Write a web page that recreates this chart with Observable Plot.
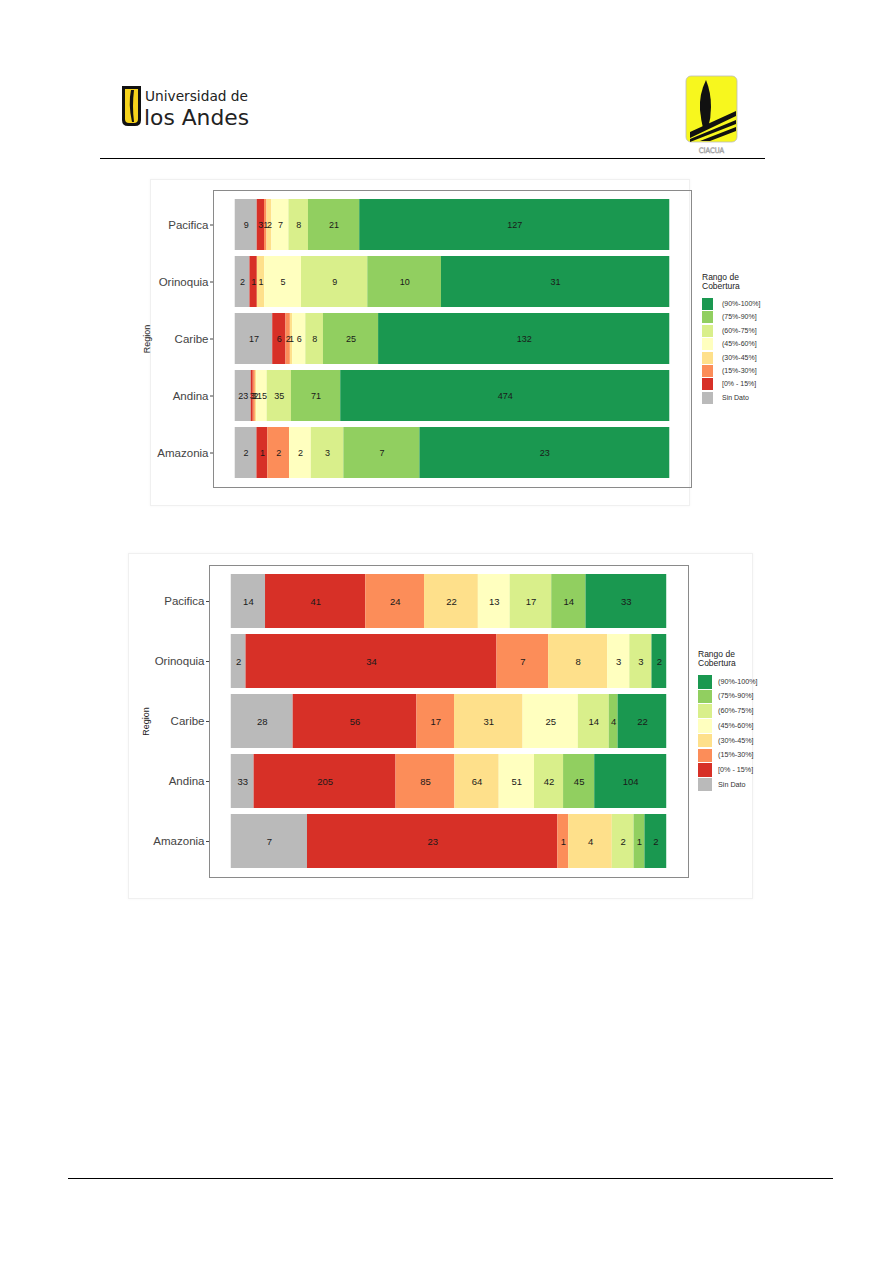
<!DOCTYPE html>
<html><head><meta charset="utf-8">
<script src="https://cdn.jsdelivr.net/npm/d3@7"></script>
<script src="https://cdn.jsdelivr.net/npm/@observablehq/plot@0.6"></script>
<style>
body{margin:0;width:893px;height:1263px;position:relative;background:#fff;font-family:"Liberation Sans",Arial,sans-serif;overflow:hidden}
.abs{position:absolute}
.frame{position:absolute;border:1px solid #f0f0f0;box-shadow:0 0 3px rgba(0,0,0,0.04)}
.legend{position:absolute;color:#333}
.legend .title{font-size:8.5px;line-height:9px;color:#222}
.legend .item{position:relative;font-size:7.2px;color:#333}
.legend .key{position:absolute;left:0}
.legend .lab{position:absolute;white-space:nowrap}
</style></head><body>

<!-- header -->
<svg class="abs" style="left:0;top:0" width="893" height="170">
  <path d="M122,86 h19 v34 q0,6 -6,6 h-7 q-6,0 -6,-6 z" fill="#111"/>
  <path d="M125,89 h13 v30 q0,4 -4,4 h-5 q-4,0 -4,-4 z" fill="#f6d31c"/>
  <path d="M131,90 q-3,14 1,32 l2,0 q-2,-16 0,-32 z" fill="#111"/>
  <text x="145" y="101" font-family="DejaVu Sans Condensed, DejaVu Sans" fill="#222" font-size="14" textLength="103" lengthAdjust="spacingAndGlyphs">Universidad de</text>
  <text x="144" y="125" font-family="DejaVu Sans Condensed, DejaVu Sans" fill="#222" font-size="21" textLength="105" lengthAdjust="spacingAndGlyphs">los Andes</text>
  <rect x="686" y="76" width="51" height="66" rx="5" fill="#f7f71e" stroke="#bbb" stroke-width="0.8"/>
  <path d="M706,80 q-7,14 -6,30 q1,10 3,18 l5,0 q3,-10 3,-21 q0,-15 -5,-27 z" fill="#111"/>
  <path d="M690,138 l0,-6 l46,-21 l0,5 z M690,142 l0,-3 l46,-19 l0,4 z M700,141 l36,-14 l0,4 l-26,10 z" fill="#111"/>
  <text x="711.5" y="153" text-anchor="middle" font-size="7.5" fill="#fff" stroke="#999" stroke-width="0.5" font-family="DejaVu Sans Condensed">CIACUA</text>
  <line x1="100" x2="765" y1="158.5" y2="158.5" stroke="#000" stroke-width="1"/>
</svg>
<div class="abs" style="left:68px;top:1178px;width:765px;height:1px;background:#000"></div>

<div class="frame" style="left:150px;top:179px;width:538px;height:325px"></div>
<div class="frame" style="left:128px;top:553px;width:623px;height:344px"></div>

<div id="c1" class="abs" style="left:130px;top:180px"></div>
<div id="c2" class="abs" style="left:130px;top:555px"></div>
<div id="l1" class="legend" style="left:702px;top:273px"></div>
<div id="l2" class="legend" style="left:698px;top:650px"></div>

<script>
const regions = ["Pacifica", "Orinoquia", "Caribe", "Andina", "Amazonia"];
const ranges = ["Sin Dato", "[0% - 15%]", "(15%-30%]", "(30%-45%]", "(45%-60%]", "(60%-75%]", "(75%-90%]", "(90%-100%]"];
const colors = ["#bababa", "#d73027", "#fc8d59", "#fee08b", "#ffffbf", "#d9ef8b", "#91cf60", "#1a9850"];
const legendTitle = ["Rango de", "Cobertura"];

// Chart 1 counts (order = ranges)
const c1Pacifica  = [9, 3, 1, 2, 7, 8, 21, 127];
const c1Orinoquia = [2, 1, 0, 1, 5, 9, 10, 31];
const c1Caribe    = [17, 6, 2, 1, 6, 8, 25, 132];
const c1Andina    = [23, 3, 3, 2, 15, 35, 71, 474];
const c1Amazonia  = [2, 1, 2, 0, 2, 3, 7, 23];

// Chart 2 counts (order = ranges)
const c2Pacifica  = [14, 41, 24, 22, 13, 17, 14, 33];
const c2Orinoquia = [2, 34, 7, 8, 3, 3, 0, 2];
const c2Caribe    = [28, 56, 17, 31, 25, 14, 4, 22];
const c2Andina    = [33, 205, 85, 64, 51, 42, 45, 104];
const c2Amazonia  = [7, 23, 1, 4, 0, 2, 1, 2];

function toRows(series) {
  const rows = [];
  regions.forEach((r, ri) => {
    series[ri].forEach((v, i) => { if (v > 0) rows.push({region: r, cat: ranges[i], value: v}); });
  });
  return rows;
}

function chart(rows, o) {
  const stack = {x: "value", y: "region", z: "cat", offset: "normalize", order: ranges};
  return Plot.plot({
    width: o.width, height: o.height,
    marginLeft: o.ml, marginRight: o.mr, marginTop: o.mt, marginBottom: o.mb,
    style: {fontFamily: "Liberation Sans, Arial, sans-serif", background: "transparent"},
    x: {domain: [-0.05, 1.05], axis: null},
    y: {domain: regions, paddingInner: o.pi, paddingOuter: o.po, axis: null},
    color: {domain: ranges, range: colors},
    marks: [
      Plot.barX(rows, Plot.stackX({...stack, fill: "cat"})),
      Plot.text(rows, Plot.stackX({...stack, text: d => String(d.value), fill: "#1a1a1a", fontSize: o.fs})),
      Plot.frame({stroke: "#8a8a8a"}),
      Plot.axisY({tickSize: 3, tickPadding: 2, fontSize: 11.5, color: "#444", label: null}),
      Plot.axisY({ticks: [], label: "Region", labelAnchor: "center", labelOffset: o.lo, fontSize: 9, color: "#222"})
    ]
  });
}

document.getElementById("c1").appendChild(chart(toRows([c1Pacifica, c1Orinoquia, c1Caribe, c1Andina, c1Amazonia]),
  {width: 563, height: 320, ml: 83, mr: 2, mt: 10, mb: 13, pi: 0.113, po: 0.139, fs: 9, lo: 70}));
document.getElementById("c2").appendChild(chart(toRows([c2Pacifica, c2Orinoquia, c2Caribe, c2Andina, c2Amazonia]),
  {width: 560, height: 335, ml: 79, mr: 2, mt: 10, mb: 13, pi: 0.1, po: 0.128, fs: 9.5, lo: 67}));

function legend(el, o) {
  let html = `<div class="title">${legendTitle.join("<br>")}</div>`;
  const order = ranges.map((r, i) => [r, colors[i]]).reverse();
  html += `<div style="position:relative;height:${order.length * o.step}px;margin-top:${o.gap}px">`;
  order.forEach(([r, c], i) => {
    html += `<div class="key" style="top:${i * o.step}px;width:${o.kw}px;height:${o.kh}px;background:${c}"></div>`;
    html += `<div class="lab" style="left:${o.lx}px;top:${i * o.step + o.kh / 2 - 5}px;font-size:${o.fs}px;line-height:10px">${r}</div>`;
  });
  html += `</div>`;
  el.innerHTML = html;
}
legend(document.getElementById("l1"), {step: 13.4, kw: 11, kh: 12, lx: 20, fs: 7, gap: 7});
legend(document.getElementById("l2"), {step: 14.7, kw: 14, kh: 13.5, lx: 20, fs: 7.2, gap: 7});
</script>
</body></html>
